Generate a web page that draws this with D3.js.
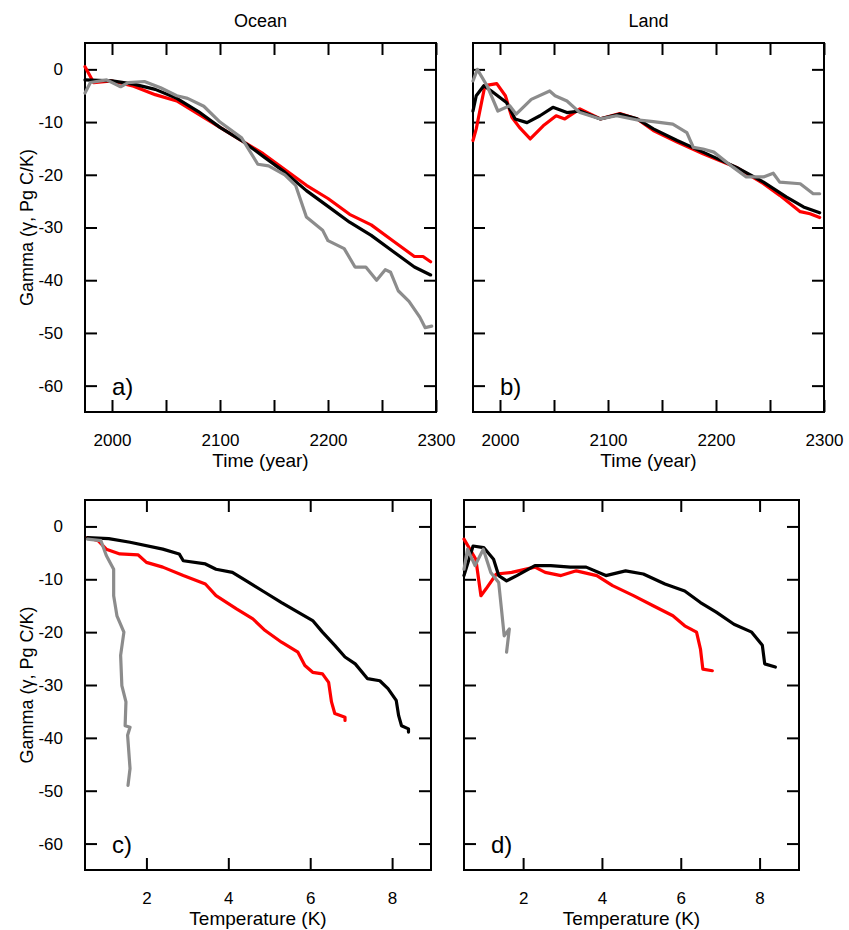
<!DOCTYPE html>
<html><head><meta charset="utf-8">
<script src="https://cdn.jsdelivr.net/npm/d3@7"></script>
<style>body{margin:0;background:#fff}svg{font-family:"Liberation Sans",Arial,sans-serif}</style>
</head><body><svg id="c" width="849" height="930"></svg>
<script>
// [x, gamma] pairs
const oceanTimeBlack=[[1975,-2],[2000,-2.2],[2020,-2.8],[2040,-3.8],[2060,-5.5],[2080,-8],[2100,-11],[2120,-13.5],[2140,-16.5],[2160,-19.5],[2180,-23],[2200,-26],[2220,-29],[2240,-31.5],[2260,-34.5],[2280,-37.5],[2295,-39]];
const oceanTimeRed=[[1975,0.5],[1983,-2.5],[2000,-2.2],[2020,-3.2],[2040,-4.8],[2060,-6],[2080,-8.5],[2100,-11],[2120,-13.5],[2140,-16],[2160,-19],[2180,-22],[2200,-24.5],[2220,-27.5],[2240,-29.5],[2260,-32.5],[2280,-35.5],[2288,-35.5],[2295,-36.5]];
const oceanTimeGray=[[1975,-4.5],[1980,-2.5],[1995,-2],[2008,-3.3],[2015,-2.5],[2030,-2.3],[2045,-3.5],[2060,-5],[2070,-5.5],[2085,-7],[2100,-10],[2120,-13],[2135,-18],[2145,-18.3],[2160,-20],[2170,-22],[2180,-28],[2195,-30.5],[2200,-32.5],[2215,-34],[2225,-37.5],[2235,-37.5],[2245,-40],[2253,-38],[2258,-38.5],[2265,-42],[2275,-44],[2285,-47],[2290,-49],[2296,-48.7]];
const landTimeBlack=[[1975,-7.9],[1978,-5],[1985,-3.1],[1992,-4.1],[2006,-6.3],[2014,-9.4],[2025,-10.1],[2037,-8.8],[2049,-7.2],[2062,-8.2],[2074,-7.9],[2093,-9.4],[2111,-8.5],[2127,-9.4],[2142,-11.3],[2164,-13.5],[2188,-15.7],[2219,-18.6],[2244,-21.4],[2265,-24.2],[2281,-26.1],[2296,-27.2]];
const landTimeRed=[[1975,-13.5],[1978,-11.3],[1986,-3.1],[1997,-2.7],[2005,-5],[2011,-9.1],[2018,-11],[2028,-13.2],[2040,-10.7],[2052,-8.8],[2060,-9.4],[2074,-7.5],[2093,-9.4],[2111,-8.4],[2127,-9.4],[2142,-11.6],[2164,-13.8],[2188,-16],[2219,-18.6],[2244,-21.7],[2259,-23.9],[2278,-27],[2287,-27.4],[2296,-28.1]];
const landTimeGray=[[1975,-2.2],[1979,0],[1988,-3.1],[1998,-7.9],[2009,-6.9],[2015,-8.5],[2029,-5.7],[2046,-4.1],[2051,-5],[2062,-6],[2074,-8.2],[2093,-9.4],[2108,-8.8],[2127,-9.6],[2142,-9.9],[2160,-10.4],[2173,-12],[2179,-14.8],[2188,-15.1],[2198,-15.7],[2216,-18.6],[2228,-20.4],[2244,-20.4],[2253,-19.7],[2259,-21.4],[2278,-21.7],[2290,-23.6],[2296,-23.6]];
const oceanTempBlack=[[0.56,-2.1],[1.08,-2.3],[1.6,-3],[2.4,-4.3],[2.8,-5.2],[2.9,-6.5],[3.44,-7.1],[3.7,-8.1],[4.1,-8.7],[4.5,-10.6],[4.9,-12.5],[5.3,-14.4],[5.7,-16.2],[6.06,-17.8],[6.3,-20],[6.6,-22.5],[6.85,-24.7],[7.1,-26],[7.4,-28.8],[7.7,-29.2],[7.9,-30.7],[8.1,-32.9],[8.16,-35.8],[8.23,-37.7],[8.4,-38.3],[8.4,-38.9]];
const oceanTempRed=[[0.56,-2.1],[0.82,-2.7],[1.02,-4.3],[1.35,-5.2],[1.8,-5.4],[2,-6.8],[2.4,-7.7],[2.9,-9.3],[3.44,-10.9],[3.7,-13.1],[4.2,-15.6],[4.6,-17.5],[4.9,-19.7],[5.3,-21.9],[5.7,-23.8],[5.87,-26.3],[6.06,-27.6],[6.3,-27.9],[6.45,-29.5],[6.52,-33.2],[6.6,-35.4],[6.85,-36.1],[6.85,-36.7]];
const oceanTempGray=[[0.56,-2.4],[0.89,-2.7],[1.02,-5.5],[1.2,-8.1],[1.2,-13.1],[1.28,-16.9],[1.45,-20],[1.37,-24.4],[1.4,-30.1],[1.5,-33.2],[1.48,-37.7],[1.6,-38],[1.54,-39.5],[1.6,-45.8],[1.55,-49]];
const landTempBlack=[[0.5,-9.3],[0.73,-3.7],[1,-4],[1.25,-6.2],[1.38,-9.3],[1.58,-10.3],[1.84,-9.3],[2.3,-7.4],[2.7,-7.4],[3.2,-7.7],[3.6,-7.7],[4.1,-9.3],[4.6,-8.4],[5.05,-9],[5.6,-10.9],[6.1,-12.2],[6.5,-14.4],[6.9,-16.2],[7.35,-18.5],[7.8,-20],[8.07,-22.5],[8.13,-26],[8.4,-26.6]];
const landTempRed=[[0.5,-2.4],[0.8,-6.2],[0.93,-13.1],[1.06,-11.8],[1.32,-9],[1.71,-8.7],[2.3,-7.7],[2.56,-8.7],[2.96,-9.3],[3.35,-8.4],[3.87,-9.3],[4.27,-11.2],[4.8,-13.1],[5.3,-15],[5.8,-16.9],[6.1,-18.8],[6.4,-20],[6.5,-23.2],[6.56,-27],[6.8,-27.3]];
const landTempGray=[[0.5,-8.1],[0.59,-4.3],[0.78,-7.4],[0.99,-4.3],[1.18,-8.7],[1.38,-10.6],[1.45,-15.6],[1.52,-20.7],[1.65,-19.4],[1.58,-23.8]];

const yTicks=[0,-10,-20,-30,-40,-50,-60];
const timeTicks=[2000,2100,2200,2300];
const tempTicks=[2,4,6,8];
const colors=["#ff0000","#000000","#8c8c8c"];

const svg=d3.select("#c");

const panels=[
  {x0:85,x1:436,y0:43,y1:412,xd:[1975,2300],ticks:timeTicks,minor:[2050,2150,2250],lab:"a)",xl:"Time (year)",ylab:true,series:[oceanTimeRed,oceanTimeBlack,oceanTimeGray],title:"Ocean"},
  {x0:473,x1:824,y0:43,y1:412,xd:[1975,2300],ticks:timeTicks,minor:[2050,2150,2250],lab:"b)",xl:"Time (year)",ylab:false,series:[landTimeRed,landTimeBlack,landTimeGray],title:"Land"},
  {x0:85,x1:431,y0:500,y1:870,xd:[0.5,8.95],ticks:tempTicks,minor:[],lab:"c)",xl:"Temperature (K)",ylab:true,series:[oceanTempRed,oceanTempBlack,oceanTempGray]},
  {x0:464,x1:799,y0:500,y1:870,xd:[0.5,9],ticks:tempTicks,minor:[],lab:"d)",xl:"Temperature (K)",ylab:false,series:[landTempRed,landTempBlack,landTempGray]}
];

panels.forEach(p=>{
  const x=d3.scaleLinear().domain(p.xd).range([p.x0,p.x1]);
  const y=d3.scaleLinear().domain([-65,5]).range([p.y1,p.y0]);
  const g=svg.append("g");
  const tl=12;
  const axB=g.append("g").attr("transform",`translate(0,${p.y1})`)
    .call(d3.axisBottom(x).tickValues(p.ticks.concat(p.minor)).tickSizeInner(-tl).tickSizeOuter(0).tickPadding(22)
      .tickFormat(d=>p.ticks.includes(d)?d:""));
  const axT=g.append("g").attr("transform",`translate(0,${p.y0})`)
    .call(d3.axisTop(x).tickValues(p.ticks.concat(p.minor)).tickSizeInner(-tl).tickSizeOuter(0).tickFormat(""));
  const axL=g.append("g").attr("transform",`translate(${p.x0},0)`)
    .call(d3.axisLeft(y).tickValues(yTicks).tickSizeInner(-tl).tickSizeOuter(0).tickPadding(22)
      .tickFormat(d=>p.ylab?d:""));
  const axR=g.append("g").attr("transform",`translate(${p.x1},0)`)
    .call(d3.axisRight(y).tickValues(yTicks).tickSizeInner(-tl).tickSizeOuter(0).tickFormat(""));
  [axB,axT,axL,axR].forEach(a=>{
    a.select(".domain").remove();
    a.selectAll("line").attr("stroke","#000").attr("stroke-width",2);
    a.selectAll("text").attr("font-size",17).attr("fill","#000").attr("font-family","Liberation Sans, Arial, sans-serif");
  });
  g.append("rect").attr("x",p.x0).attr("y",p.y0).attr("width",p.x1-p.x0).attr("height",p.y1-p.y0)
    .attr("fill","none").attr("stroke","#000").attr("stroke-width",2);
  const line=d3.line().x(d=>x(d[0])).y(d=>y(d[1]));
  p.series.forEach((s,i)=>{
    g.append("path").datum(s).attr("d",line).attr("fill","none")
      .attr("stroke",colors[i]).attr("stroke-width",3.2).attr("stroke-linejoin","round").attr("stroke-linecap","round");
  });
  g.append("text").attr("x",p.x0+27).attr("y",y(-60)+9).attr("font-size",24).text(p.lab);
  g.append("text").attr("x",(p.x0+p.x1)/2).attr("y",p.y1+55).attr("text-anchor","middle").attr("font-size",19).text(p.xl);
  if(p.title) g.append("text").attr("x",(p.x0+p.x1)/2).attr("y",27).attr("text-anchor","middle").attr("font-size",18).text(p.title);
  if(p.ylab) g.append("text").attr("transform",`translate(33,${(p.y0+p.y1)/2}) rotate(-90)`)
    .attr("text-anchor","middle").attr("font-size",18).text("Gamma (\u03b3, Pg C/K)");
});
</script></body></html>
